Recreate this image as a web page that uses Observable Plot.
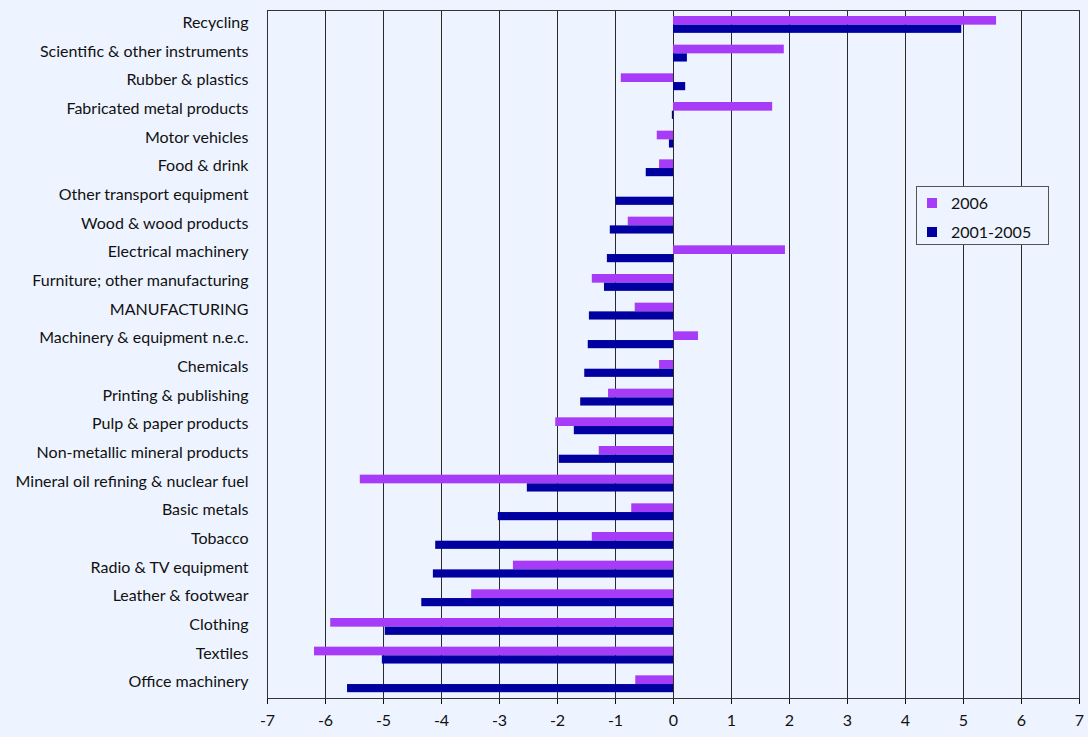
<!DOCTYPE html>
<html>
<head>
<meta charset="utf-8">
<script src="https://cdn.jsdelivr.net/npm/d3@7"></script>
<script src="https://cdn.jsdelivr.net/npm/@observablehq/plot@0.6"></script>
<style>
  html, body { margin: 0; padding: 0; background: #EEF4FF; }
  #wrap { position: relative; width: 1088px; height: 737px; overflow: hidden; }
  #legend { position: absolute; left: 916px; top: 186px; width: 133px; height: 59px;
    border: 1px solid #555; box-sizing: border-box; background: #EEF4FF;
    font-family: Lato, sans-serif; font-size: 16px; color: #111; }
  .item { position: absolute; left: 10px; display: flex; align-items: center; }
  .sw { width: 10px; height: 10px; margin-right: 14px; }
</style>
</head>
<body>
<div id="wrap"></div>
<script>
const categories = [
  "Recycling", "Scientific & other instruments", "Rubber & plastics", "Fabricated metal products",
  "Motor vehicles", "Food & drink", "Other transport equipment", "Wood & wood products",
  "Electrical machinery", "Furniture; other manufacturing", "MANUFACTURING", "Machinery & equipment n.e.c.",
  "Chemicals", "Printing & publishing", "Pulp & paper products", "Non-metallic mineral products",
  "Mineral oil refining & nuclear fuel", "Basic metals", "Tobacco", "Radio & TV equipment",
  "Leather & footwear", "Clothing", "Textiles", "Office machinery"
];
const values2006 = [
  5.57, 1.91, -0.90, 1.71, -0.28, -0.24, 0, -0.78, 1.93, -1.40, -0.66, 0.43,
  -0.24, -1.12, -2.03, -1.28, -5.40, -0.72, -1.40, -2.76, -3.48, -5.91, -6.19, -0.65
];
const values2001_2005 = [
  4.97, 0.24, 0.21, -0.02, -0.07, -0.47, -0.99, -1.09, -1.14, -1.19, -1.45, -1.47,
  -1.53, -1.60, -1.71, -1.97, -2.52, -3.02, -4.10, -4.14, -4.34, -4.97, -5.02, -5.62
];
const seriesNames = ["2006", "2001-2005"];
const seriesColors = ["#A63BF8", "#0000A0"];
const xTicks = [-7, -6, -5, -4, -3, -2, -1, 0, 1, 2, 3, 4, 5, 6, 7];

const rows = categories.map((c, i) => ({ category: c, v2006: values2006[i], v0105: values2001_2005[i] }));

const hasAxisMarks = typeof Plot.axisY === "function";

const marks = [
  Plot.ruleX(xTicks, { stroke: "#2a2a2a", strokeWidth: 1 }),
  Plot.barX(rows, { x: "v2006", y: "category", fill: seriesColors[0], insetTop: 6, insetBottom: 14 }),
  Plot.barX(rows, { x: "v0105", y: "category", fill: seriesColors[1], insetTop: 14.7, insetBottom: 5.8 }),
  Plot.frame({ stroke: "#333" })
];
if (hasAxisMarks) {
  marks.push(Plot.axisY({ tickSize: 0, tickPadding: 19, dy: -2, label: null }));
}

const chart = Plot.plot({
  width: 1088,
  height: 737,
  marginLeft: 267,
  marginRight: 9,
  marginTop: 10,
  marginBottom: 39,
  style: { background: "#EEF4FF", fontFamily: "Lato, sans-serif", fontSize: "16px", color: "#111" },
  x: { domain: [-7, 7], ticks: xTicks, tickSize: 6, tickPadding: 10, label: null, tickFormat: d => String(d) },
  y: hasAxisMarks
    ? { domain: categories, padding: 0, round: false, axis: null }
    : { domain: categories, padding: 0, round: false, tickSize: 0, tickPadding: 19, label: null },
  marks
});
const wrap = document.getElementById("wrap");
wrap.appendChild(chart);

const legend = document.createElement("div");
legend.id = "legend";
seriesNames.forEach((name, i) => {
  const it = document.createElement("div");
  it.className = "item";
  it.style.top = (i === 0 ? 6 : 35) + "px";
  const sw = document.createElement("div");
  sw.className = "sw";
  sw.style.background = seriesColors[i];
  const tx = document.createElement("span");
  tx.textContent = name;
  it.appendChild(sw);
  it.appendChild(tx);
  legend.appendChild(it);
});
wrap.appendChild(legend);
</script>
</body>
</html>
